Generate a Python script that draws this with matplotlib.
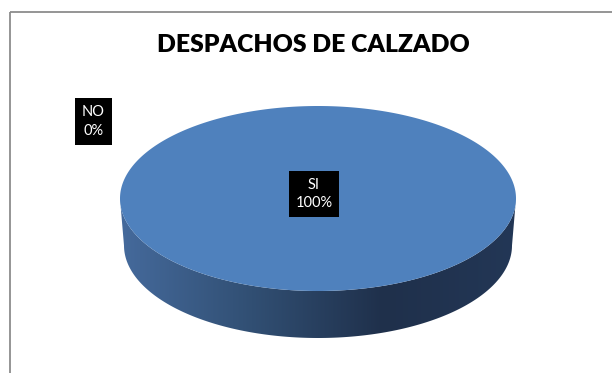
import numpy as np
import matplotlib
matplotlib.use("Agg")
import matplotlib.pyplot as plt
from matplotlib.patches import Polygon, Rectangle
from matplotlib.colors import LinearSegmentedColormap

# datos del grafico
categorias = ["SI", "NO"]
valores = [100, 0]
colores = ["#4f81bd", "#c0504d"]
titulo = "DESPACHOS DE CALZADO"

# geometria del pastel 3D (en pixeles, eje y hacia abajo)
cx, cy = 318, 198.5
rx, ry = 198, 92.5
profundidad = 47
rx_base = 194

fig = plt.figure(figsize=(6.12, 3.73), dpi=100)
ax = fig.add_axes([0, 0, 1, 1])
ax.set_xlim(0, 612)
ax.set_ylim(373, 0)
ax.axis("off")

# marco gris del area del grafico
ax.add_patch(Rectangle((9.5, 12), 700, 500, fill=False, edgecolor="#8c8c8c", linewidth=1.3))

ax.text(313, 45, titulo, ha="center", va="center", fontsize=17.8, fontweight="heavy",
        family=["Lato", "DejaVu Sans"], color="black")

cmap_lado = LinearSegmentedColormap.from_list(
    "lado", ["#456a9c", "#314f73", "#1f304b", "#233756"], N=256)

total = float(sum(valores))
inicio = -np.pi / 2  # arranca a las 12 en punto, sentido horario
for nombre, v, col in zip(categorias, valores, colores):
    frac = v / total
    if frac <= 0:
        continue
    fin = inicio + frac * 2 * np.pi

    # lado visible (parte frontal, t entre 0 y pi)
    if frac >= 1:
        t_lo, t_hi = 0, np.pi
    else:
        t_lo, t_hi = max(inicio, 0), min(fin, np.pi)
    if t_hi > t_lo:
        t = np.linspace(t_lo, t_hi, 200)
        arriba = np.column_stack([cx + rx * np.cos(t), cy + ry * np.sin(t)])
        abajo = np.column_stack([cx + rx_base * np.cos(t[::-1]),
                                 cy + profundidad + ry * np.sin(t[::-1])])
        lado = Polygon(np.vstack([arriba, abajo]), closed=True, facecolor="none", edgecolor="none")
        ax.add_patch(lado)
        grad = np.linspace(0, 1, 256).reshape(1, -1)
        im = ax.imshow(grad, extent=[cx - rx, cx + rx, cy + ry + profundidad, cy],
                       cmap=cmap_lado, aspect="auto", interpolation="bilinear", zorder=2)
        im.set_clip_path(lado)

    # cara superior
    t = np.linspace(inicio, fin, 400)
    pts = np.column_stack([cx + rx * np.cos(t), cy + ry * np.sin(t)])
    if frac < 1:
        pts = np.vstack([[cx, cy], pts])
    ax.add_patch(Polygon(pts, closed=True, facecolor=col, edgecolor="none", zorder=3))
    inicio = fin

ax.set_xlim(0, 612)
ax.set_ylim(373, 0)

# etiquetas de datos
pos_etiquetas = {"SI": (314, 194), "NO": (93.5, 121.5)}
for nombre, v in zip(categorias, valores):
    pct = 100 * v / total
    x, y = pos_etiquetas[nombre]
    ax.text(x, y, f"{nombre}\n{pct:.0f}%", ha="center", va="center", fontsize=10.5,
            family=["Lato", "DejaVu Sans"], color="white", linespacing=1.45, zorder=5,
            bbox=dict(boxstyle="square,pad=0.45", facecolor="black", edgecolor="none"))

fig.savefig("out.png", dpi=100)
